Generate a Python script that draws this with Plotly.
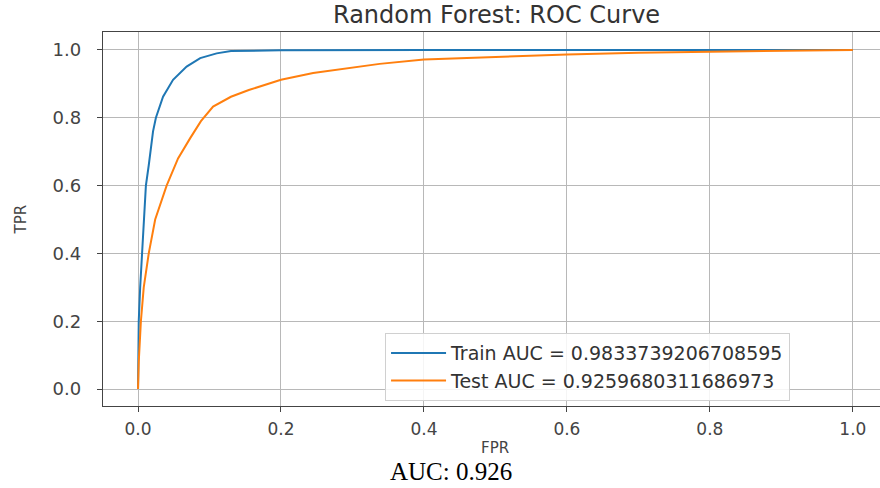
import plotly.graph_objects as go

# ROC data
fpr_train = [0, 0.0005, 0.001, 0.003, 0.0055, 0.008, 0.011, 0.015, 0.021, 0.025, 0.035, 0.049, 0.068, 0.087, 0.110, 0.130, 0.20, 0.40, 0.60, 0.80, 1.0]
tpr_train = [0, 0.10, 0.20, 0.30, 0.40, 0.50, 0.60, 0.66, 0.76, 0.80, 0.862, 0.912, 0.951, 0.976, 0.990, 0.997, 0.999, 1.0, 1.0, 1.0, 1.0]

fpr_test = [0, 0.001, 0.004, 0.008, 0.015, 0.024, 0.040, 0.056, 0.073, 0.088, 0.105, 0.130, 0.155, 0.20, 0.245, 0.338, 0.40, 0.50, 0.60, 0.70, 0.80, 0.90, 1.0]
tpr_test = [0, 0.08, 0.20, 0.30, 0.40, 0.50, 0.60, 0.68, 0.74, 0.79, 0.833, 0.862, 0.882, 0.912, 0.932, 0.959, 0.972, 0.980, 0.987, 0.992, 0.995, 0.998, 1.0]

train_label = "Train AUC = 0.9833739206708595"
test_label = "Test AUC = 0.9259680311686973"
title_text = "Random Forest: ROC Curve"
tick_vals = [0.0, 0.2, 0.4, 0.6, 0.8, 1.0]
tick_text = ["0.0", "0.2", "0.4", "0.6", "0.8", "1.0"]

fig = go.Figure()
fig.add_trace(go.Scatter(x=fpr_train, y=tpr_train, mode="lines", name=train_label,
                         line=dict(color="#1f77b4", width=2)))
fig.add_trace(go.Scatter(x=fpr_test, y=tpr_test, mode="lines", name=test_label,
                         line=dict(color="#ff7f0e", width=2)))

axis_common = dict(showgrid=True, gridcolor="#b8b8b8", gridwidth=1, zeroline=False,
                   ticks="outside", ticklen=5, tickcolor="#444", linecolor="#444", linewidth=1.3,
                   showline=True, tickvals=tick_vals, ticktext=tick_text)

fig.update_layout(
    width=880, height=488,
    margin=dict(l=103, r=0, t=32, b=82),
    paper_bgcolor="white", plot_bgcolor="white",
    showlegend=True,
    legend=dict(x=0.363, y=0.195, xanchor="left", yanchor="top",
                bgcolor="rgba(255,255,255,0.85)", bordercolor="#d0d0d0", borderwidth=1,
                font=dict(family="DejaVu Sans", size=19, color="#333"),
                tracegroupgap=0, itemwidth=55),
    xaxis=dict(range=[-0.049, 1.038], mirror=True, ticklabelstandoff=2,
               tickfont=dict(family="DejaVu Sans", size=17, color="#444"), **axis_common),
    yaxis=dict(range=[-0.05, 1.053], mirror=False, ticklabelstandoff=12,
               tickfont=dict(family="DejaVu Sans", size=18, color="#444"), **axis_common),
    annotations=[
        dict(text=title_text, xref="paper", yref="paper", x=0.507, y=1.0, yshift=17,
             showarrow=False, font=dict(family="DejaVu Sans", size=24, color="#333"),
             xanchor="center", yanchor="middle"),
        dict(text="TPR", xref="paper", yref="paper", x=-0.105, y=0.5, textangle=-90,
             showarrow=False, font=dict(family="DejaVu Sans", size=15, color="#444"),
             xanchor="center", yanchor="middle"),
        dict(text="FPR", xref="paper", yref="paper", x=0.505, y=0, yshift=-42,
             showarrow=False, font=dict(family="DejaVu Sans", size=15, color="#444"),
             xanchor="center", yanchor="middle"),
        dict(text="AUC: 0.926", xref="paper", yref="paper", x=0.448, y=0, yshift=-65,
             showarrow=False, font=dict(family="Liberation Serif", size=25, color="black"),
             xanchor="center", yanchor="middle"),
    ],
)

fig.write_html("out.html")
